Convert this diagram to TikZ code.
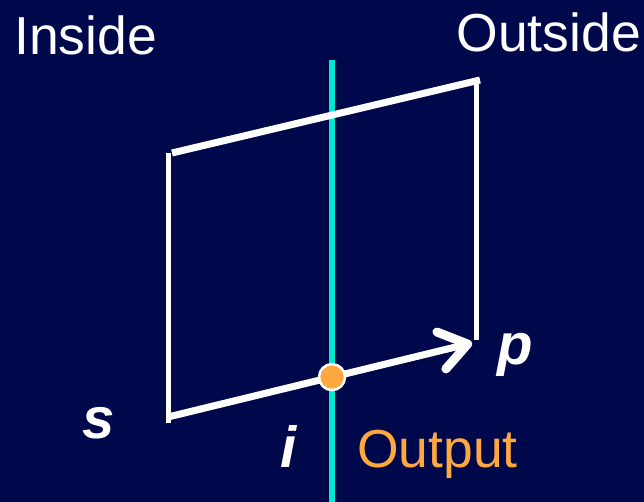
\documentclass[tikz,border=0pt]{standalone}
\usepackage{fontspec}
\setmainfont{Liberation Sans}
\usetikzlibrary{positioning, arrows.meta, calc}
\definecolor{navy}{RGB}{0,8,76}
\definecolor{edgecyan}{RGB}{0,232,205}
\definecolor{outorange}{RGB}{255,168,64}

\begin{document}
\begin{tikzpicture}[
    x=1pt, y=-1pt,
    side/.style={font=\fontsize{53.5}{64}\selectfont, text=white, inner sep=0pt},
    vertex/.style={font=\fontsize{58}{70}\selectfont\bfseries\itshape, text=white, inner sep=0pt},
    edge/.style={white, line width=7pt},
    post/.style={white, line width=5pt},
    arrow/.style={-{Straight Barb[length=27pt, width=38pt, line width=9pt, round]}, white, line width=7pt},
]
% Background
\fill[navy] (0,0) rectangle (644,502);
\useasboundingbox (0,0) rectangle (644,502);

% Clip boundary
\coordinate (ctop) at (332,60);
\coordinate (cbot) at (332,502);
\draw[edgecyan, line width=6pt] (ctop) -- (cbot);

% Polygon edge s -> p
\coordinate (stop) at (168,153);
\coordinate (sbot) at (168,423);
\coordinate (s) at (168,417);
\coordinate (ptop) at (476,83);
\coordinate (pbot) at (476,340);
\coordinate (p) at (472,343);
\coordinate (ltop) at (172,153);
\coordinate (rtop) at (480,80);

\draw[post] (stop) -- (sbot);
\draw[post] (ptop) -- (pbot);
\draw[edge] (ltop) -- (rtop);
\draw[arrow] (s) -- (p);

% Intersection point
\coordinate (i) at (intersection of s--p and ctop--cbot);
\fill[outorange, draw=white, line width=2.5pt] (i) circle (13pt);

% Labels
\node[side, anchor=base west] (inside) at (14,55) {Inside};
\node[side, anchor=base east] (outside) at (641,52) {Outside};
\node[vertex, anchor=base west] (slabel) at (82,438) {s};
\node[vertex, anchor=base west] (plabel) at (497,364) {p};
\node[vertex, anchor=base west] (ilabel) at (280,467) {i};
\node[side, anchor=base west, text=outorange] (output) at (357,467) {Output};
\end{tikzpicture}
\end{document}
